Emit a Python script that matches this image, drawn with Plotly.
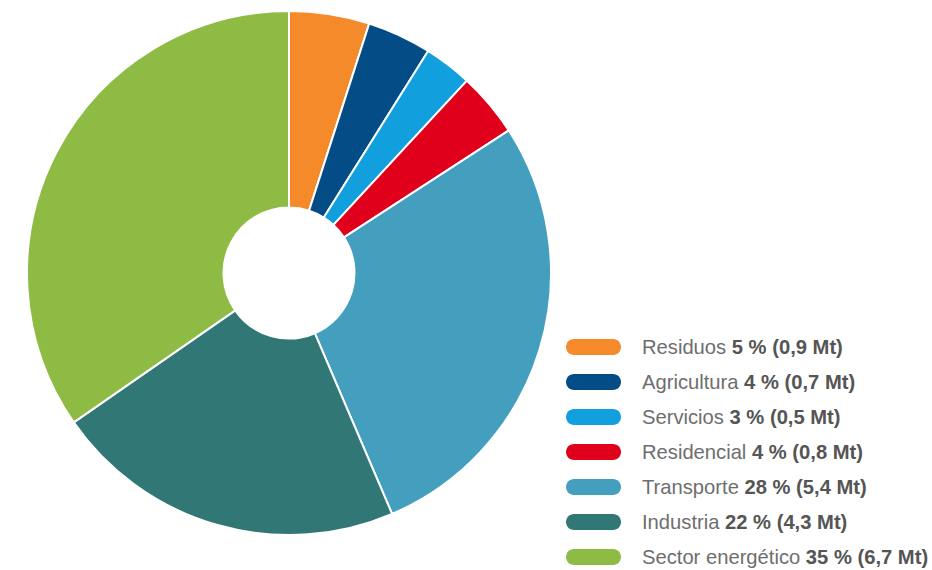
import plotly.graph_objects as go

W, H = 932, 570

labels = ["Residuos", "Agricultura", "Servicios", "Residencial", "Transporte", "Industria", "Sector energético"]
percent_values = [5, 4, 3, 4, 28, 22, 35]
mt_values = [0.9, 0.7, 0.5, 0.8, 5.4, 4.3, 6.7]
colors = ["#F48A2A", "#044C86", "#129FDD", "#E1001B", "#449FBF", "#317775", "#8DBB43"]

cx, cy, r = 289, 273, 262

fig = go.Figure()
fig.add_trace(go.Pie(
    labels=labels,
    values=percent_values,
    sort=False,
    direction="clockwise",
    rotation=0,
    hole=0.25,
    textinfo="none",
    marker=dict(colors=colors, line=dict(color="white", width=2)),
    domain=dict(x=[(cx - r) / W, (cx + r) / W], y=[1 - (cy + r) / H, 1 - (cy - r) / H]),
    showlegend=False,
))

def px(x):
    return x / W

def py(y):
    return 1 - y / H

def fmt(v):
    return f"{v:.1f}".replace(".", ",")

shapes = []
annotations = []
x0, x1, hh = 566, 621, 8
for i, (lab, pc, v, col) in enumerate(zip(labels, percent_values, mt_values, colors)):
    yc = 347 + i * 35
    rr = hh
    k = 0.5523 * rr
    pts = [
        ("M", [(x0 + rr, yc - hh)]),
        ("L", [(x1 - rr, yc - hh)]),
        ("C", [(x1 - rr + k, yc - hh), (x1, yc - k), (x1, yc)]),
        ("C", [(x1, yc + k), (x1 - rr + k, yc + hh), (x1 - rr, yc + hh)]),
        ("L", [(x0 + rr, yc + hh)]),
        ("C", [(x0 + rr - k, yc + hh), (x0, yc + k), (x0, yc)]),
        ("C", [(x0, yc - k), (x0 + rr - k, yc - hh), (x0 + rr, yc - hh)]),
    ]
    path = ""
    for cmd, ps in pts:
        path += cmd + " " + " ".join(f"{px(a):.5f},{py(b):.5f}" for a, b in ps) + " "
    path += "Z"
    shapes.append(dict(type="path", path=path, xref="paper", yref="paper",
                       fillcolor=col, line=dict(width=0)))
    annotations.append(dict(
        x=px(640), y=py(yc), xref="paper", yref="paper", xanchor="left", yanchor="middle",
        showarrow=False,
        text=f"{lab} <b><span style='color:#555555'>{pc} % ({fmt(v)} Mt)</span></b>",
        font=dict(family="Liberation Sans, Arial, sans-serif", size=20.2, color="#6e6e6e"),
    ))

fig.update_layout(
    width=W, height=H,
    margin=dict(l=0, r=0, t=0, b=0),
    paper_bgcolor="white",
    plot_bgcolor="white",
    shapes=shapes,
    annotations=annotations,
)

fig.write_html("out.html")
